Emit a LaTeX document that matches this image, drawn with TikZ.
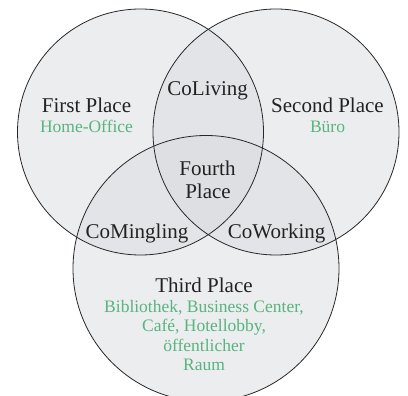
\documentclass[tikz,border=0pt]{standalone}
\usepackage{fontspec}
\setmainfont{Liberation Serif}
\definecolor{ringfill}{RGB}{219,220,224}
\definecolor{ringline}{RGB}{40,40,40}
\definecolor{txtdark}{RGB}{34,34,34}
\definecolor{txtgreen}{RGB}{88,180,128}
\tikzset{
  ring/.style={fill=ringfill, fill opacity=0.5, draw=none},
  ringedge/.style={draw=ringline, line width=0.8pt},
  head/.style={anchor=base, text=txtdark, inner sep=0pt, font=\fontsize{21}{25}\selectfont},
  sub/.style={anchor=base, text=txtgreen, inner sep=0pt, font=\fontsize{17.5}{21}\selectfont}
}
\begin{document}
\begin{tikzpicture}[x=1pt,y=-1pt]
\useasboundingbox (0,0) rectangle (408,396);
\fill[white] (0,0) rectangle (408,396);
\coordinate (c1) at (140.5,132);
\coordinate (c2) at (276,132);
\coordinate (c3) at (206,268.5);
\path[ring] (c1) circle[radius=123pt];
\path[ring] (c2) circle[radius=123pt];
\path[ring] (c3) circle[radius=133pt];
\draw[ringedge] (c1) circle[radius=123pt];
\draw[ringedge] (c2) circle[radius=123pt];
\draw[ringedge] (c3) circle[radius=133pt];
\node[head] (first) at (86.5,113) {First Place};
\node[sub] (homeoffice) at (86.5,132.7) {Home-Office};
\node[head] (second) at (327.5,113) {Second Place};
\node[sub] (buero) at (327.5,132.7) {Büro};
\node[head] (coliving) at (207.7,96) {CoLiving};
\node[head] (fourth1) at (207.5,175.7) {Fourth};
\node[head] (fourth2) at (208,199) {Place};
\node[head] (comingling) at (137,239) {CoMingling};
\node[head] (coworking) at (276.7,239) {CoWorking};
\node[head] (third) at (204,293) {Third Place};
\node[sub] (list1) at (204,312.7) {Bibliothek, Business Center,};
\node[sub] (list2) at (204,332) {Café, Hotellobby,};
\node[sub] (list3) at (204,351.5) {öffentlicher};
\node[sub] (list4) at (204,370.7) {Raum};
\end{tikzpicture}
\end{document}
